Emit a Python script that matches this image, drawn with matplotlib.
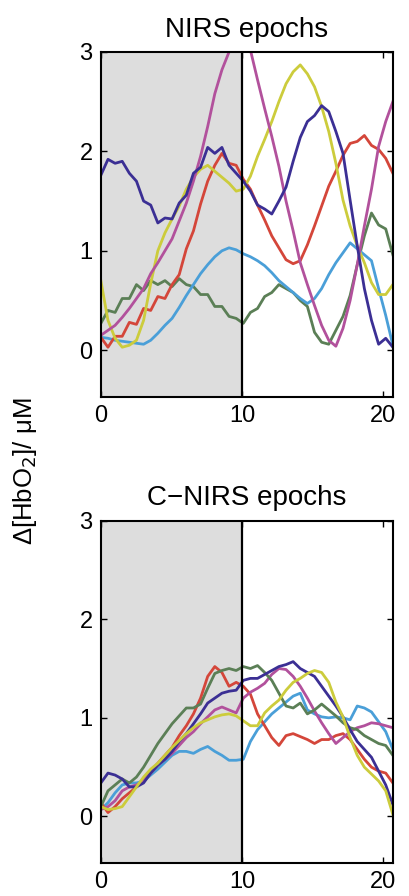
import numpy as np
import matplotlib.pyplot as plt

plt.rcParams['font.family'] = ['Liberation Sans', 'DejaVu Sans']

# time axis (s), sampled every ~0.5 s
time = np.arange(42) * 0.505

# NIRS epochs (top)
nirs_navy = [1.76, 1.92, 1.88, 1.90, 1.78, 1.70, 1.50, 1.46, 1.28, 1.33, 1.32, 1.48, 1.56, 1.78,
             1.84, 2.04, 1.98, 2.04, 1.86, 1.78, 1.70, 1.60, 1.46, 1.42, 1.37, 1.50, 1.64, 1.90,
             2.14, 2.30, 2.36, 2.46, 2.40, 2.20, 1.98, 1.51, 1.05, 0.62, 0.30, 0.06, 0.12, 0.03]
nirs_magenta = [0.15, 0.20, 0.25, 0.33, 0.42, 0.52, 0.62, 0.77, 0.88, 1.00, 1.12, 1.30, 1.48, 1.70,
                1.95, 2.25, 2.58, 2.82, 3.00, 3.30, 3.30, 3.02, 2.72, 2.43, 2.15, 1.85, 1.50, 1.20,
                0.88, 0.66, 0.45, 0.25, 0.10, 0.04, 0.22, 0.50, 0.86, 1.25, 1.62, 2.05, 2.30, 2.50]
nirs_yellow = [0.70, 0.30, 0.12, 0.03, 0.05, 0.10, 0.30, 0.67, 1.00, 1.18, 1.32, 1.45, 1.62, 1.74,
               1.82, 1.86, 1.80, 1.74, 1.68, 1.60, 1.62, 1.75, 1.95, 2.12, 2.30, 2.50, 2.68, 2.80,
               2.87, 2.78, 2.65, 2.45, 2.20, 1.88, 1.51, 1.25, 1.05, 0.88, 0.68, 0.56, 0.56, 0.66]
nirs_red = [0.13, 0.03, 0.14, 0.14, 0.28, 0.26, 0.42, 0.40, 0.54, 0.52, 0.66, 0.76, 1.02, 1.20,
            1.47, 1.70, 1.86, 1.98, 1.88, 1.86, 1.72, 1.62, 1.46, 1.31, 1.15, 1.03, 0.91, 0.87,
            0.90, 1.06, 1.25, 1.45, 1.65, 1.80, 1.96, 2.08, 2.10, 2.16, 2.06, 2.02, 1.93, 1.78]
nirs_green = [0.27, 0.40, 0.38, 0.52, 0.52, 0.66, 0.60, 0.70, 0.66, 0.70, 0.64, 0.72, 0.66, 0.64,
              0.56, 0.56, 0.44, 0.44, 0.34, 0.32, 0.27, 0.38, 0.42, 0.54, 0.58, 0.66, 0.62, 0.58,
              0.50, 0.44, 0.18, 0.08, 0.06, 0.20, 0.34, 0.55, 0.86, 1.15, 1.38, 1.26, 1.22, 0.96]
nirs_blue = [0.13, 0.12, 0.10, 0.09, 0.08, 0.07, 0.06, 0.10, 0.17, 0.25, 0.32, 0.43, 0.55, 0.66,
             0.77, 0.86, 0.94, 1.00, 1.03, 1.01, 0.97, 0.94, 0.90, 0.85, 0.78, 0.70, 0.64, 0.58,
             0.52, 0.47, 0.52, 0.62, 0.76, 0.88, 0.98, 1.08, 1.02, 0.96, 0.90, 0.62, 0.35, 0.05]

# C-NIRS epochs (bottom)
cnirs_navy = [0.34, 0.44, 0.42, 0.38, 0.30, 0.30, 0.34, 0.44, 0.52, 0.58, 0.66, 0.76, 0.84, 0.94,
              1.04, 1.15, 1.20, 1.25, 1.27, 1.28, 1.38, 1.40, 1.40, 1.44, 1.48, 1.52, 1.54, 1.57,
              1.50, 1.46, 1.42, 1.32, 1.22, 1.12, 1.01, 0.88, 0.76, 0.68, 0.60, 0.46, 0.32, 0.12]
cnirs_red = [0.14, 0.04, 0.10, 0.18, 0.24, 0.30, 0.38, 0.46, 0.54, 0.62, 0.70, 0.82, 0.92, 1.04,
             1.20, 1.42, 1.52, 1.46, 1.32, 1.36, 1.32, 1.24, 1.04, 0.92, 0.80, 0.72, 0.82, 0.84,
             0.81, 0.78, 0.74, 0.78, 0.78, 0.82, 0.84, 0.78, 0.68, 0.58, 0.50, 0.46, 0.44, 0.34]
cnirs_green = [0.10, 0.26, 0.32, 0.38, 0.34, 0.40, 0.50, 0.62, 0.74, 0.84, 0.94, 1.02, 1.10, 1.10,
               1.14, 1.30, 1.45, 1.48, 1.50, 1.48, 1.52, 1.50, 1.53, 1.46, 1.38, 1.25, 1.12, 1.10,
               1.15, 1.04, 1.08, 1.14, 1.08, 1.02, 0.95, 0.90, 0.88, 0.82, 0.78, 0.74, 0.72, 0.62]
cnirs_magenta = [0.07, 0.10, 0.16, 0.26, 0.30, 0.32, 0.36, 0.44, 0.52, 0.58, 0.64, 0.72, 0.80, 0.86,
                 0.94, 1.01, 1.08, 1.11, 1.08, 1.05, 1.20, 1.26, 1.30, 1.35, 1.44, 1.50, 1.49, 1.42,
                 1.32, 1.20, 1.07, 0.95, 0.84, 0.74, 0.80, 0.86, 0.90, 0.92, 0.95, 0.94, 0.92, 0.90]
cnirs_yellow = [0.10, 0.07, 0.08, 0.10, 0.20, 0.30, 0.40, 0.48, 0.54, 0.62, 0.70, 0.77, 0.84, 0.90,
                0.95, 0.98, 1.01, 1.03, 1.04, 1.02, 0.97, 0.92, 0.92, 1.05, 1.12, 1.18, 1.28, 1.36,
                1.40, 1.45, 1.48, 1.46, 1.36, 1.16, 1.01, 0.80, 0.62, 0.50, 0.43, 0.36, 0.26, 0.02]
cnirs_blue = [0.07, 0.14, 0.24, 0.32, 0.34, 0.34, 0.36, 0.42, 0.48, 0.55, 0.62, 0.66, 0.66, 0.64,
              0.68, 0.71, 0.66, 0.62, 0.57, 0.57, 0.58, 0.76, 0.88, 0.96, 1.04, 1.10, 1.16, 1.22,
              1.25, 1.08, 1.04, 1.01, 1.00, 1.01, 1.00, 0.98, 1.12, 1.10, 1.06, 0.96, 0.86, 0.68]

colors = {'navy': '#3b2f94', 'magenta': '#b2519c', 'yellow': '#cccc3c',
          'red': '#d4463a', 'green': '#5b7f56', 'blue': '#4a9fd8'}

panels = [
    ('NIRS epochs', [('green', nirs_green), ('blue', nirs_blue), ('red', nirs_red),
                     ('yellow', nirs_yellow), ('magenta', nirs_magenta), ('navy', nirs_navy)]),
    ('C\u2212NIRS epochs', [('blue', cnirs_blue), ('red', cnirs_red), ('magenta', cnirs_magenta),
                            ('green', cnirs_green), ('navy', cnirs_navy), ('yellow', cnirs_yellow)]),
]

fig = plt.figure(figsize=(4.10, 8.96), dpi=100)
ax_top = fig.add_axes([0.246, 0.557, 0.712, 0.385])
ax_bot = fig.add_axes([0.246, 0.037, 0.712, 0.382])

for ax, (title, series) in zip([ax_top, ax_bot], panels):
    ax.axvspan(0, 10, color='#dddddd', lw=0, zorder=0)
    for name, vals in series:
        ax.plot(time, vals, color=colors[name], lw=2.0, zorder=2)
    ax.axvline(10, color='black', lw=1.6, zorder=3)
    ax.set_xlim(0, 20.7)
    ax.set_ylim(-0.47, 3)
    ax.set_xticks([0, 10, 20])
    ax.set_yticks([0, 1, 2, 3])
    ax.tick_params(direction='in', length=4, width=1, labelsize=17,
                   top=True, right=True, pad=6)
    for s in ax.spines.values():
        s.set_linewidth(1.5)
    ax.set_title(title, fontsize=20, pad=11)

fig.text(0.06, 0.474, 'Δ[HbO$_2$]/ μM', rotation=90, fontsize=18.5,
         ha='center', va='center')

fig.savefig('out.png', dpi=100)
